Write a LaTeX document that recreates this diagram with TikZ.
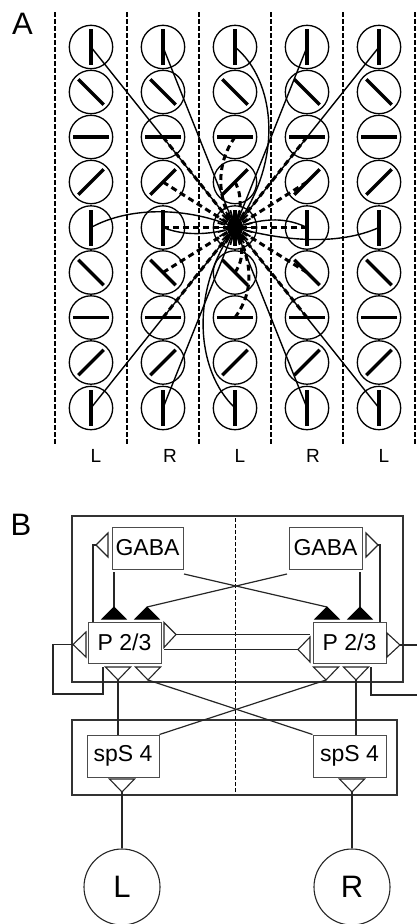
\documentclass[tikz,border=0pt]{standalone}
\usepackage{fontspec}
\setmainfont{Liberation Sans}
\usetikzlibrary{calc}
\begin{document}
\begin{tikzpicture}[x=1pt,y=-1pt,
  cell/.style={circle,draw,line width=1.3pt,minimum size=43.4pt,inner sep=0pt},
  bar/.style={line width=3.2pt},
  axon/.style={line width=1.4pt},
  hconn/.style={line width=3pt,dash pattern=on 6pt off 4pt},
  sep/.style={line width=1.2pt,dash pattern=on 5pt off 2pt},
  wire/.style={line width=1.2pt,draw=black!85},
  unit/.style={draw=black!70,line width=1pt,inner sep=0pt,minimum height=42pt,
    font=\fontsize{23}{23}\selectfont},
  frame/.style={draw=black!80,line width=1.2pt,inner sep=0pt},
  syn/.style={draw=black!85,line width=1.1pt,fill=white},
  synf/.style={draw=black,line width=1pt,fill=black},
  big/.style={font=\fontsize{31}{31}\selectfont},
  colab/.style={font=\fontsize{19}{19}\selectfont}
]
\useasboundingbox (0,0) rectangle (416,924);

% ---------------- panel A: orientation columns ----------------
\node[big] (labA) at (22.5,24) {A};
\foreach \k/\x in {1/55,2/127,3/199,4/271,5/343,6/415}
  \draw[sep] (\x,12) coordinate (s\k) -- (\x,444);

\foreach \i/\x in {1/91,2/163,3/235,4/307,5/379}{
  \foreach \j/\y/\a in {1/47/90,2/92/45,3/137/0,4/182/135,5/227.5/90,
                         6/272.5/45,7/317.5/0,8/362.5/135,9/408/90}{
    \node[cell] (c-\i-\j) at (\x,\y) {};
    \draw[bar] (c-\i-\j.center) ++(\a:18) -- ++({\a+180}:36);
  }
}

\node[colab] (lab1) at (96,456) {L};
\node[colab] (lab2) at (170,456) {R};
\node[colab] (lab3) at (240,456) {L};
\node[colab] (lab4) at (313,456) {R};
\node[colab] (lab5) at (384,456) {L};

% long-range solid connections to the central cell
\draw[axon] (c-1-1.center) -- (c-3-5.center);
\draw[axon] (c-2-1.center) -- (c-3-5.center);
\draw[axon] (c-3-1.center) .. controls +(40,33) and +(50,-68) .. (c-3-5.center);
\draw[axon] (c-4-1.center) -- (c-3-5.center);
\draw[axon] (c-5-1.center) -- (c-3-5.center);
\draw[axon] (c-1-5.center) .. controls +(40,-22) and +(-45,-20) .. (c-3-5.center);
\draw[axon] (c-2-5.center) .. controls +(25,10) and +(-20,6) .. (c-3-5.center);
\draw[axon] (c-4-5.center) .. controls +(-25,-12) and +(25,-8) .. (c-3-5.center);
\draw[axon] (c-5-5.center) .. controls +(-40,18) and +(50,14) .. (c-3-5.center);
\draw[axon] (c-1-9.center) -- (c-3-5.center);
\draw[axon] (c-2-9.center) -- (c-3-5.center);
\draw[axon] (c-3-9.center) .. controls +(-40,-38) and +(-45,62) .. (c-3-5.center);
\draw[axon] (c-4-9.center) -- (c-3-5.center);
\draw[axon] (c-5-9.center) -- (c-3-5.center);

% short-range dashed connections
\foreach \i in {2,4}
  \foreach \j in {3,4,5,6,7}
    \draw[hconn] (c-\i-\j.center) -- (c-3-5.center);
\draw[hconn] (c-3-3.center) .. controls +(-20,28) and +(-18,-28) .. (c-3-5.center);
\draw[hconn] (c-3-4.center) .. controls +(8,15) and +(6,-15) .. (c-3-5.center);
\draw[hconn] (c-3-6.center) .. controls +(10,-15) and +(8,15) .. (c-3-5.center);
\draw[hconn] (c-3-7.center) .. controls +(22,-30) and +(15,30) .. (c-3-5.center);

% dense core of the central cell
\fill (c-3-5.center) ellipse (8 and 11);
\foreach \t in {0,15,...,345}
  \draw[line width=1.8pt] (c-3-5.center) ++(\t:10) -- ++(\t:8);

% ---------------- panel B: circuit ----------------
\node[big] (labB) at (21,525) {B};

\node[frame,minimum width=331pt,minimum height=166pt] (frameU) at (237.5,599) {};
\node[frame,minimum width=325pt,minimum height=75pt] (frameD) at (234.5,757.5) {};
\draw[sep,line width=1pt,dash pattern=on 4pt off 2pt] (235,518) coordinate (midT) -- (235,794) coordinate (midB);

\node[unit,minimum width=71pt] (gabaL) at (147.5,548) {GABA};
\node[unit,minimum width=73pt] (gabaR) at (325.5,548) {GABA};
\node[unit,minimum width=73pt,minimum height=41pt] (pL) at (124.5,642.5) {P 2/3};
\node[unit,minimum width=73pt,minimum height=41pt] (pR) at (349.5,642.5) {P 2/3};
\node[unit,minimum width=72pt] (sL) at (123,756) {spS 4};
\node[unit,minimum width=73pt] (sR) at (349.5,756) {spS 4};
\node[circle,draw=black!85,line width=1.1pt,minimum size=76pt,inner sep=0pt,big] (inL) at (122,887) {L};
\node[circle,draw=black!85,line width=1.1pt,minimum size=76pt,inner sep=0pt,big] (inR) at (352,887) {R};

% synapse tips
\coordinate (gLo) at (96,545);
\coordinate (gRo) at (378,545);
\coordinate (pLa1) at (114,607);
\coordinate (pLa2) at (147,607);
\coordinate (pRa1) at (327,607);
\coordinate (pRa2) at (360,607);
\coordinate (pLr) at (176,634.5);
\coordinate (pRl) at (298,649.5);
\coordinate (pLl) at (73,644.5);
\coordinate (pRr) at (400,645);
\coordinate (pLd1) at (118,680);
\coordinate (pLd2) at (148,680);
\coordinate (pRd1) at (326,680);
\coordinate (pRd2) at (356,680);
\coordinate (sLd) at (122,792);
\coordinate (sRd) at (352,792);

% connections
\draw[wire] (gLo) -| (93,622);
\draw[wire] (gRo) -| (380,622);
\draw[wire] (114,572) -- (pLa1);
\draw[wire] (360,572) -- (pRa2);
\draw[wire] (184,574) -- (pRa1);
\draw[wire] (287,574) -- (pLa2);
\draw[wire] (pLr) -- (310,634.5);
\draw[wire] (pRl) -- (164,649.5);
\draw[wire] (pLl) -- (53,644.5) -- (53,694) -- (103,694) -- (103,667);
\draw[wire] (pRr) -- (418,645);
\draw[wire] (371,667) -- (371,695) -- (418,695);
\draw[wire] (pLd1) -- (118,735);
\draw[wire] (pLd2) -- (sR.north west);
\draw[wire] (pRd1) -- (sL.north east);
\draw[wire] (pRd2) -- (356,735);
\draw[wire] (sLd) -- (inL.north);
\draw[wire] (sRd) -- (inR.north);

% synapse symbols
\draw[syn] (gLo) -- ++(12,-12) -- ++(0,24) -- cycle;
\draw[syn] (gRo) -- ++(-12,-12) -- ++(0,24) -- cycle;
\foreach \p in {pLa1,pLa2,pRa1,pRa2}
  \draw[synf] (\p) -- ++(-12,12) -- ++(24,0) -- cycle;
\draw[syn] (pLr) -- ++(-12,-12) -- ++(0,25) -- cycle;
\draw[syn] (pRl) -- ++(12,-12.5) -- ++(0,25) -- cycle;
\draw[syn] (pLl) -- ++(13,-12.5) -- ++(0,25) -- cycle;
\draw[syn] (pRr) -- ++(-13,-12) -- ++(0,24) -- cycle;
\foreach \p in {pLd1,pLd2,pRd1,pRd2,sLd,sRd}
  \draw[syn] (\p) -- ++(-12.5,-13) -- ++(25,0) -- cycle;
\end{tikzpicture}
\end{document}
